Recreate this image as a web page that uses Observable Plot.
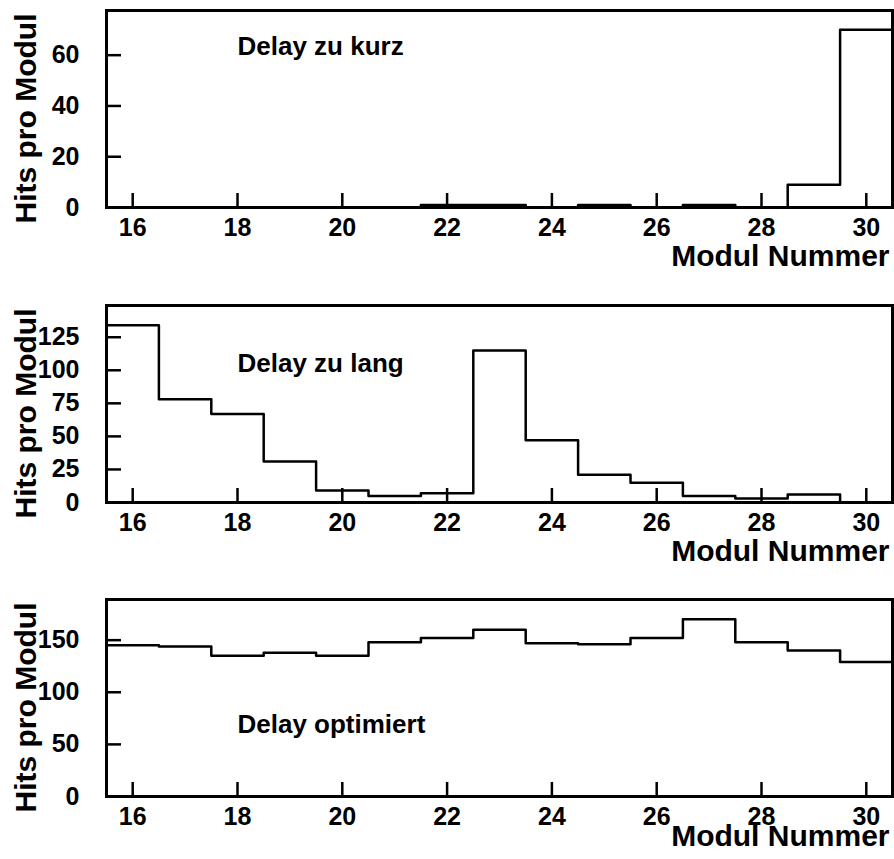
<!DOCTYPE html>
<html>
<head>
<meta charset="utf-8">
<script src="https://cdn.jsdelivr.net/npm/d3@7"></script>
<script src="https://cdn.jsdelivr.net/npm/@observablehq/plot@0.6"></script>
<style>
  html, body { margin: 0; padding: 0; background: #fff; }
  svg { display: block; }
</style>
</head>
<body>
<div id="chart"></div>
<script>
// ---- data ----
const modules = [16, 17, 18, 19, 20, 21, 22, 23, 24, 25, 26, 27, 28, 29, 30];
const hitsKurz = [0, 0, 0, 0, 0, 0, 1, 1, 0, 1, 0, 1, 0, 9, 70];
const hitsLang = [134, 78, 67, 31, 9, 5, 7, 115, 47, 21, 15, 5, 3, 6, 0];
const hitsOptimiert = [145, 144, 135, 138, 135, 148, 152, 160, 147, 146, 152, 170, 148, 140, 129];
const xTicks = [16, 18, 20, 22, 24, 26, 28, 30];
const yTicksKurz = [0, 20, 40, 60];
const yTicksLang = [0, 25, 50, 75, 100, 125];
const yTicksOptimiert = [0, 50, 100, 150];
const panelLabels = ["Delay zu kurz", "Delay zu lang", "Delay optimiert"];
const xTitle = "Modul Nummer";
const yTitle = "Hits pro Modul";

const W = 894, ML = 106, MR = 2;

function panel({values, yMax, yTicks, label, labelY, height, marginTop, marginBottom, titleDy}) {
  const steps = modules.map((m, i) => ({x: m - 0.5, y: values[i]}));
  steps.push({x: modules[modules.length - 1] + 0.5, y: values[values.length - 1]});
  const fw = W - ML - MR;
  const fh = height - marginTop - marginBottom;
  return Plot.plot({
    width: W,
    height,
    marginLeft: ML,
    marginRight: MR,
    marginTop,
    marginBottom,
    x: {domain: [15.5, 30.5], axis: null},
    y: {domain: [0, yMax], axis: null},
    style: {fontFamily: "'Liberation Sans', Arial, Helvetica, sans-serif", fontWeight: "bold", fontSize: "25px", color: "black", background: "white", overflow: "visible"},
    marks: [
      Plot.text(xTicks, {x: d => d, text: d => String(d), frameAnchor: "bottom", lineAnchor: "top", dy: 11, fontSize: 25}),
      Plot.text(yTicks, {y: d => d, text: d => String(d), frameAnchor: "left", textAnchor: "end", lineAnchor: "middle", dx: -27, fontSize: 25}),
      Plot.tickX(xTicks, {x: d => d, insetTop: fh - 14, strokeWidth: 2.5}),
      Plot.tickY(yTicks, {y: d => d, insetRight: fw - 15, strokeWidth: 2.5}),
      Plot.lineY(steps, {x: "x", y: "y", curve: "step-after", strokeWidth: 2.5, stroke: "black"}),
      Plot.frame({strokeWidth: 3}),
      Plot.text([label], {x: 18, y: labelY, text: d => d, textAnchor: "start", lineAnchor: "bottom", fontSize: 26}),
      Plot.text([xTitle], {frameAnchor: "bottom-right", text: d => d, textAnchor: "end", lineAnchor: "bottom", dx: -3, dy: titleDy, fontSize: 30}),
      Plot.text([yTitle], {frameAnchor: "top-left", text: d => d, rotate: -90, textAnchor: "end", lineAnchor: "bottom", dx: -71, dy: 3, fontSize: 30})
    ]
  });
}

const chart = document.getElementById("chart");
chart.append(panel({values: hitsKurz, yMax: 77.6, yTicks: yTicksKurz, label: panelLabels[0], labelY: 60, height: 295, marginTop: 10, marginBottom: 88, titleDy: 58}));
chart.append(panel({values: hitsLang, yMax: 149, yTicks: yTicksLang, label: panelLabels[1], labelY: 99, height: 295, marginTop: 10, marginBottom: 88, titleDy: 58}));
chart.append(panel({values: hitsOptimiert, yMax: 189, yTicks: yTicksOptimiert, label: panelLabels[2], labelY: 61, height: 269, marginTop: 9, marginBottom: 63, titleDy: 49}));
</script>
</body>
</html>
